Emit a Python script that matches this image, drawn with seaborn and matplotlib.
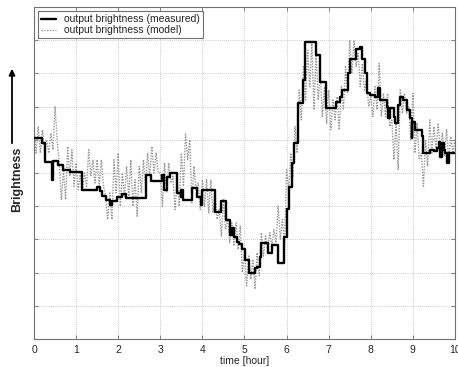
import numpy as np
import pandas as pd
import matplotlib
matplotlib.use("Agg")
import matplotlib.pyplot as plt
import seaborn as sns

# ---- data -------------------------------------------------------------
# measured output brightness (step levels: time [hour], level)
meas_t = [0.00, 0.20, 0.25, 0.42, 0.46, 0.58, 0.68, 0.86, 1.14, 1.49,
          1.57, 1.62, 1.72, 1.80, 1.86, 1.98, 2.08, 2.18, 2.66, 2.78,
          3.05, 3.08, 3.16, 3.24, 3.40, 3.48, 3.50, 3.54, 3.76, 3.86,
          3.96, 4.00, 4.29, 4.45, 4.57, 4.65, 4.70, 4.74, 4.82, 4.88,
          4.95, 5.02, 5.10, 5.24, 5.30, 5.36, 5.40, 5.56, 5.66, 5.80,
          5.95, 6.00, 6.06, 6.14, 6.18, 6.27, 6.38, 6.43, 6.70, 6.79,
          6.93, 7.18, 7.26, 7.32, 7.45, 7.50, 7.65, 7.74, 7.79, 7.86,
          7.90, 7.98, 8.10, 8.18, 8.21, 8.38, 8.42, 8.46, 8.54, 8.58,
          8.65, 8.69, 8.77, 8.85, 8.93, 8.97, 8.99, 9.05, 9.21, 9.25,
          9.40, 9.50, 9.57, 9.61, 9.65, 9.69, 9.73, 9.77, 9.81, 9.85,
          10.0]
meas_y = [6.05, 5.90, 5.33, 4.80, 5.36, 5.24, 5.09, 5.04, 4.49, 4.59,
          4.45, 4.30, 4.19, 4.05, 4.15, 4.28, 4.37, 4.24, 4.94, 4.77,
          4.94, 4.49, 4.89, 4.99, 4.39, 4.29, 4.49, 4.20, 4.54, 4.29,
          4.04, 4.50, 3.83, 4.17, 3.58, 3.13, 3.33, 3.08, 2.93, 2.85,
          2.70, 2.38, 1.98, 2.13, 2.18, 2.48, 2.88, 2.60, 2.83, 2.28,
          3.08, 3.93, 4.59, 5.29, 5.89, 7.10, 7.80, 8.95, 8.55, 7.75,
          6.95, 7.15, 7.30, 7.50, 8.00, 8.42, 8.75, 8.80, 8.42, 8.00,
          7.40, 7.35, 7.30, 7.55, 7.20, 7.00, 6.65, 6.95, 6.70, 6.50,
          7.05, 7.30, 7.20, 6.90, 6.65, 6.05, 6.55, 6.30, 6.10, 5.60,
          5.70, 5.65, 5.74, 5.94, 5.49, 5.89, 5.70, 5.60, 5.29, 5.60,
          5.60]

# model output brightness, sampled every 0.05 h (upper / lower swings)
model_hi = [6.3, 6.4, 6.3, 6.0, 6.2, 7.0, 5.3, 5.1, 5.8, 5.7,
            5.3, 5.0, 5.0, 5.7, 5.4, 5.4, 5.4, 4.3, 4.4, 5.4,
            5.6, 5.0, 5.2, 5.4, 4.8, 5.2, 5.4, 5.6, 5.8, 5.6,
            5.0, 5.3, 5.3, 4.9, 4.8, 5.6, 6.2, 6.0, 5.2, 4.7,
            4.8, 4.8, 4.8, 4.4, 3.9, 4.2, 3.6, 3.5, 3.5, 3.4,
            2.7, 2.5, 2.4, 2.6, 3.2, 3.1, 3.2, 3.3, 4.0, 3.6,
            5.1, 5.6, 6.4, 7.5, 8.2, 8.7, 8.9, 8.6, 8.0, 7.6,
            7.5, 7.2, 7.3, 7.6, 8.2, 9.0, 9.0, 8.6, 8.3, 7.8,
            7.3, 7.6, 8.3, 7.4, 7.4, 6.6, 6.5, 7.5, 7.4, 7.0,
            7.4, 6.5, 5.6, 6.0, 6.6, 6.4, 6.5, 6.2, 6.3, 6.1]
model_lo = [5.6, 5.6, 5.7, 5.6, 5.7, 6.0, 4.2, 4.2, 4.9, 4.6,
            4.5, 4.5, 4.6, 4.9, 4.7, 4.6, 4.6, 3.6, 3.6, 4.4,
            4.0, 4.3, 4.3, 4.0, 3.7, 4.4, 4.6, 4.9, 5.0, 5.0,
            4.0, 4.4, 4.7, 3.9, 4.0, 4.6, 5.4, 4.1, 4.5, 3.9,
            4.0, 3.8, 3.8, 3.6, 3.1, 3.3, 2.9, 2.8, 2.7, 2.0,
            1.6, 1.8, 1.5, 1.9, 2.5, 2.7, 2.8, 2.9, 3.0, 2.8,
            4.5, 4.9, 5.6, 6.6, 7.2, 7.6, 6.9, 7.2, 6.7, 6.5,
            6.3, 6.6, 6.3, 6.9, 7.4, 8.0, 8.2, 7.6, 7.5, 7.0,
            6.7, 6.9, 6.7, 6.7, 6.4, 5.4, 5.1, 6.8, 6.8, 6.0,
            5.6, 5.4, 4.6, 5.2, 5.6, 5.7, 5.7, 5.5, 5.4, 5.6]
model_end = 6.0

x_ticks = [0, 1, 2, 3, 4, 5, 6, 7, 8, 9, 10]
legend_labels = ["output brightness (measured)", "output brightness (model)"]

# ---- build tables -------------------------------------------------------
model_y = []
for hi, lo in zip(model_hi, model_lo):
    model_y += [hi, lo]
model_y.append(model_end)
model_t = np.arange(len(model_y)) * 0.05

df_meas = pd.DataFrame({"t": meas_t, "y": meas_y})
df_model = pd.DataFrame({"t": model_t, "y": model_y})

# ---- style --------------------------------------------------------------
sns.set_style("white")
plt.rcParams["font.family"] = ["Liberation Sans", "DejaVu Sans"]

fig = plt.figure(figsize=(4.58, 3.67), dpi=100)
ax = fig.add_axes([34 / 458, 1 - 339 / 367, 421 / 458, 332 / 367])

sns.lineplot(data=df_model, x="t", y="y", ax=ax, color="#999999",
             linestyle=(0, (1, 1)), linewidth=1.0, label=legend_labels[1],
             zorder=2)
sns.lineplot(data=df_meas, x="t", y="y", ax=ax, color="black",
             drawstyle="steps-post", linewidth=1.7, label=legend_labels[0],
             zorder=3)

ax.set_xlim(0, 10)
ax.set_ylim(0, 10)
ax.set_xticks(x_ticks)
ax.set_xticklabels([str(v) for v in x_ticks], fontsize=7.5)
ax.set_yticks(range(0, 11))
ax.set_yticklabels([])
ax.tick_params(direction="in", length=3, width=0.6, color="#707070",
               top=True, right=True, left=True, bottom=True, pad=4)
ax.grid(True, color="#bbbbbb", linestyle=(0, (1, 1.5)), linewidth=0.6)
for s in ax.spines.values():
    s.set_color("#707070")
    s.set_linewidth(0.8)

ax.set_xlabel("time [hour]", fontsize=7.5, labelpad=1)
ax.set_ylabel("")

fig.text(17 / 458, 1 - 179 / 367, "Brightness", rotation=90, fontsize=9,
         fontweight="bold", ha="center", va="center")
fig.patches.append(matplotlib.patches.FancyArrowPatch(
    (12 / 458, 1 - 146 / 367), (12 / 458, 1 - 66 / 367),
    transform=fig.transFigure, arrowstyle="-|>", mutation_scale=9,
    color="black", linewidth=1.3))

h, l = ax.get_legend_handles_labels()
order = [l.index(legend_labels[0]), l.index(legend_labels[1])]
leg = ax.legend([h[i] for i in order], [l[i] for i in order],
                loc="upper left", fontsize=7.5, frameon=True, fancybox=False,
                edgecolor="#707070", framealpha=1, handlelength=1.4,
                borderaxespad=0.4, borderpad=0.3, labelspacing=0.1,
                handletextpad=0.8)
leg.get_frame().set_linewidth(0.8)

fig.savefig("out.png", dpi=100)
